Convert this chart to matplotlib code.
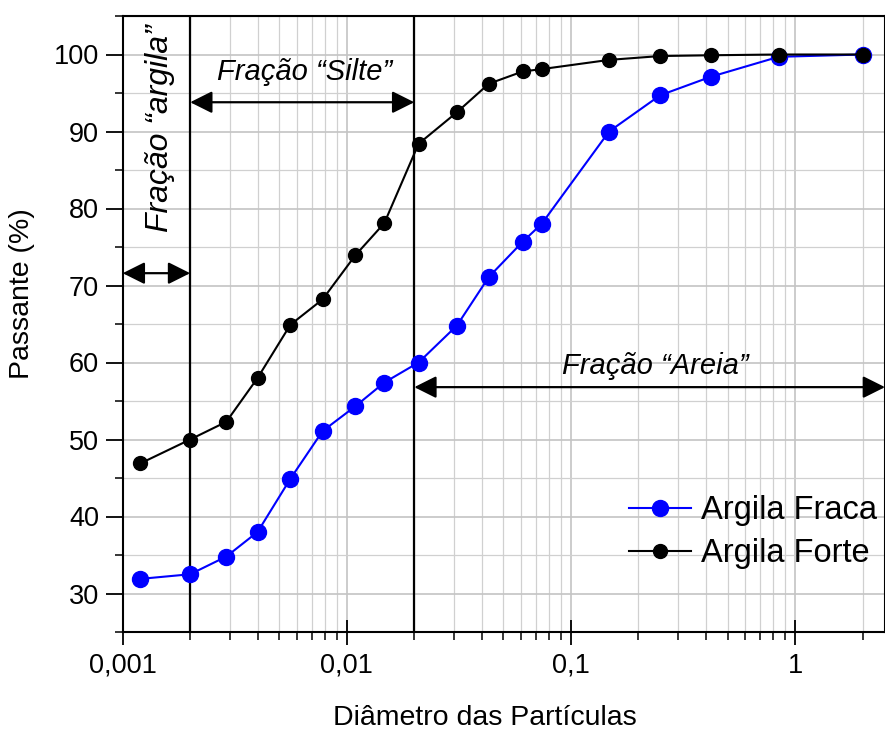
import numpy as np
import matplotlib
matplotlib.use("Agg")
import matplotlib.pyplot as plt
from matplotlib.ticker import FixedLocator, LogLocator, MultipleLocator, NullFormatter

plt.rcParams['font.family'] = ['Liberation Sans', 'DejaVu Sans']

# diametro das particulas (mm)
diametro = [0.0012, 0.0020, 0.0029, 0.0040, 0.0056, 0.0078, 0.0109, 0.0147,
            0.0209, 0.031, 0.043, 0.061, 0.074, 0.148, 0.25, 0.42, 0.845, 2.0]
fraca = [31.9, 32.5, 34.8, 38.0, 44.9, 51.1, 54.3, 57.4,
         60.0, 64.8, 71.1, 75.7, 78.0, 90.0, 94.7, 97.1, 99.7, 100.0]
forte = [46.9, 50.0, 52.3, 58.0, 64.9, 68.2, 73.9, 78.1,
         88.4, 92.5, 96.2, 97.8, 98.1, 99.3, 99.8, 99.9, 100.0, 100.0]

xtick_vals = [0.001, 0.01, 0.1, 1]
xtick_labels = ['0,001', '0,01', '0,1', '1']
limites = [0.002, 0.02]   # argila / silte / areia

W, H = 885, 731
fig = plt.figure(figsize=(W / 100, H / 100), dpi=100)
ax = fig.add_axes([122.7 / W, 1 - 632 / H, (W - 122.7) / W, (632 - 16) / H])

ax.set_xscale('log')
ax.set_xlim(0.001, 2.52)
ax.set_ylim(25, 105)

ax.xaxis.set_major_locator(FixedLocator(xtick_vals))
ax.set_xticklabels(xtick_labels)
ax.xaxis.set_minor_locator(LogLocator(base=10, subs=np.arange(2, 10)))
ax.xaxis.set_minor_formatter(NullFormatter())
ax.yaxis.set_major_locator(MultipleLocator(10))
ax.yaxis.set_minor_locator(MultipleLocator(5))
ax.set_yticks(np.arange(30, 101, 10))

ax.grid(True, which='major', color='#c4c4c4', lw=1.2, zorder=0)
ax.grid(True, which='minor', color='#d0d0d0', lw=0.9, zorder=0)
ax.set_axisbelow(True)

ax.tick_params(axis='x', which='major', direction='inout', length=18, width=1.3,
               labelsize=19.5, pad=6)
ax.tick_params(axis='x', which='minor', direction='out', length=6, width=1.1)
ax.tick_params(axis='y', which='major', direction='out', length=12, width=1.3,
               labelsize=19.5, pad=5)
ax.tick_params(axis='y', which='minor', direction='out', length=6, width=1.1)
for s in ax.spines.values():
    s.set_linewidth(1.5)

for lim in limites:
    ax.axvline(lim, color='black', lw=1.6, zorder=2)

ax.plot(diametro, fraca, color='blue', marker='o', ms=11.5, lw=1.5,
        label='Argila Fraca', zorder=3)
ax.plot(diametro, forte, color='black', marker='o', ms=10, lw=1.5,
        label='Argila Forte', zorder=4)

arrow = dict(arrowstyle='<|-|>,head_length=0.9,head_width=0.45', color='black',
             lw=1.6, shrinkA=0, shrinkB=0, mutation_scale=15)
ax.annotate('', xy=(0.001, 71.6), xytext=(limites[0], 71.6), arrowprops=arrow,
            zorder=5)
ax.annotate('', xy=(limites[0], 93.8), xytext=(limites[1], 93.8), arrowprops=arrow,
            zorder=5)
ax.annotate('', xy=(1.0, 56.8), xycoords=('axes fraction', 'data'),
            xytext=(limites[1], 56.8), textcoords='data', arrowprops=arrow,
            annotation_clip=False, zorder=5)

ax.text(0.00648, 97.7, 'Fração “Silte”', style='italic', fontsize=21,
        ha='center', va='center')
ax.text(0.237, 59.5, 'Fração “Areia”', style='italic', fontsize=21,
        ha='center', va='center')
ax.text(0.00147, 90.4, 'Fração “argila”', style='italic', fontsize=23,
        ha='center', va='center', rotation=90)

fig.text(22.5 / W, 1 - 293.7 / H, 'Passante (%)', rotation=90, fontsize=20.5,
         ha='center', va='center')
fig.text(485 / W, 1 - 718 / H, 'Diâmetro das Partículas', fontsize=20.5,
         ha='center', va='center')

ax.legend(loc='upper left', bbox_to_anchor=(629 / W, 1 - 495 / H),
          bbox_transform=fig.transFigure, frameon=False, fontsize=23.5,
          handlelength=1.9, handletextpad=0.3, labelspacing=0.38,
          borderpad=0, borderaxespad=0)

fig.savefig('out.png', dpi=100)
